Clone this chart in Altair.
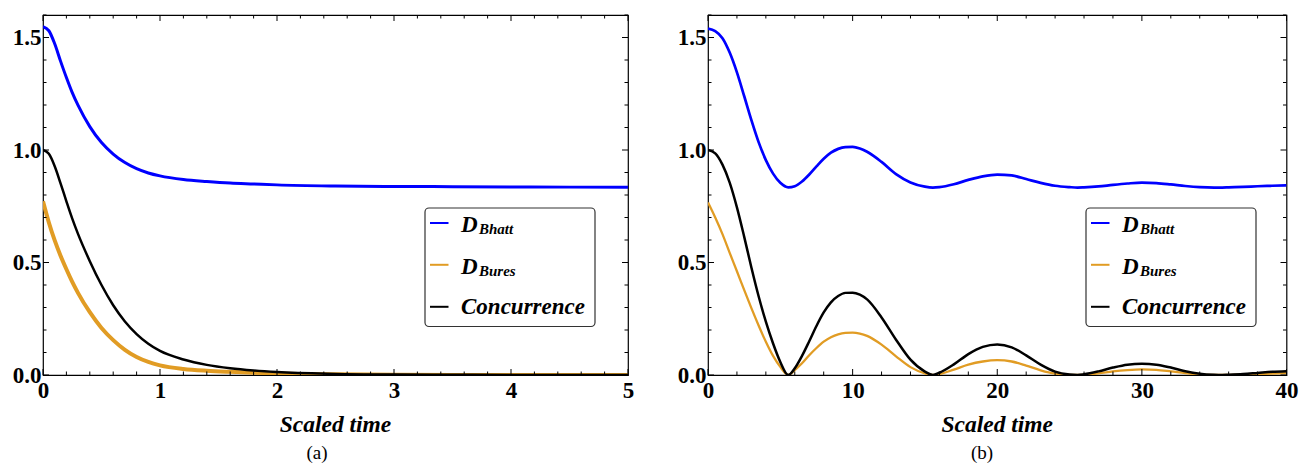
import altair as alt
import pandas as pd

# ---------------- data ----------------
# panel (a): scaled time 0..5
ta = [0, 0.05, 0.1, 0.15, 0.2, 0.25, 0.3, 0.4, 0.5, 0.6, 0.7, 0.8, 0.9, 1.0,
      1.2, 1.4, 1.6, 1.8, 2.0, 2.5, 3.0, 3.5, 4.0, 4.5, 5.0]
a_bhatt = [1.548, 1.530, 1.472, 1.395, 1.322, 1.255, 1.198, 1.104, 1.033, 0.982,
           0.944, 0.917, 0.898, 0.885, 0.869, 0.860, 0.853, 0.849, 0.845, 0.840,
           0.838, 0.837, 0.836, 0.835, 0.835]
a_bures = [0.772, 0.678, 0.598, 0.530, 0.470, 0.414, 0.364, 0.279, 0.209, 0.155,
           0.112, 0.080, 0.058, 0.043, 0.027, 0.019, 0.014, 0.010, 0.007, 0.003,
           0.001, 0.0, 0.0, 0.0, 0.0]
a_conc = [1.000, 0.983, 0.928, 0.852, 0.772, 0.695, 0.626, 0.506, 0.400, 0.310,
          0.238, 0.182, 0.139, 0.107, 0.069, 0.045, 0.030, 0.020, 0.013, 0.005,
          0.002, 0.001, 0.0, 0.0, 0.0]

# panel (b): scaled time 0..40
tb = [0, 0.5, 1, 1.5, 2, 2.5, 3, 3.5, 4, 4.5, 5, 5.55,
      6, 6.5, 7, 7.5, 8, 8.5, 9, 9.5, 10, 10.5, 11,
      12, 13, 14, 15, 15.55,
      16, 17, 18, 19, 20, 21, 22, 23, 24, 25, 25.55,
      26, 27, 28, 29, 30, 31, 32, 33, 34, 35, 35.55,
      36, 37, 38, 39, 40]
b_bhatt = [1.540, 1.528, 1.497, 1.433, 1.345, 1.240, 1.133, 1.035, 0.955, 0.895, 0.854, 0.834,
           0.839, 0.860, 0.891, 0.927, 0.961, 0.988, 1.005, 1.013, 1.014, 1.007, 0.992,
           0.947, 0.893, 0.856, 0.837, 0.833,
           0.835, 0.848, 0.867, 0.883, 0.891, 0.887, 0.871, 0.854, 0.841, 0.835, 0.833,
           0.834, 0.838, 0.845, 0.851, 0.855, 0.853, 0.847, 0.840, 0.835, 0.833, 0.833,
           0.834, 0.836, 0.839, 0.841, 0.843]
b_bures = [0.767, 0.700, 0.626, 0.543, 0.461, 0.378, 0.297, 0.220, 0.148, 0.085, 0.036, 0.0,
           0.022, 0.052, 0.088, 0.120, 0.148, 0.168, 0.181, 0.187, 0.188, 0.184, 0.174,
           0.135, 0.083, 0.035, 0.007, 0.0,
           0.004, 0.024, 0.046, 0.060, 0.066, 0.060, 0.042, 0.021, 0.006, 0.0005, 0.0,
           0.001, 0.007, 0.016, 0.022, 0.025, 0.023, 0.016, 0.008, 0.002, 0.0, 0.0,
           0.0, 0.002, 0.004, 0.006, 0.008]
b_conc = [1.000, 0.985, 0.935, 0.855, 0.745, 0.615, 0.478, 0.350, 0.237, 0.140, 0.058, 0.0,
          0.030, 0.085, 0.150, 0.218, 0.278, 0.323, 0.351, 0.365, 0.366, 0.357, 0.336,
          0.256, 0.157, 0.068, 0.015, 0.0,
          0.010, 0.047, 0.093, 0.125, 0.136, 0.123, 0.087, 0.046, 0.015, 0.002, 0.0,
          0.003, 0.016, 0.033, 0.046, 0.050, 0.046, 0.033, 0.017, 0.006, 0.001, 0.0,
          0.001, 0.004, 0.009, 0.014, 0.017]

legend_main = ["D", "D", "Concurrence"]
legend_sub = ["Bhatt", "Bures", ""]
colors = ["#0000FF", "#E19C24", "#000000"]

xa_major = [0, 1, 2, 3, 4, 5]
xa_minor = [0.2, 0.4, 0.6, 0.8, 1.2, 1.4, 1.6, 1.8, 2.2, 2.4, 2.6, 2.8,
            3.2, 3.4, 3.6, 3.8, 4.2, 4.4, 4.6, 4.8]
xb_major = [0, 10, 20, 30, 40]
xb_minor = [2, 4, 6, 8, 12, 14, 16, 18, 22, 24, 26, 28, 32, 34, 36, 38]
y_major = [0.0, 0.5, 1.0, 1.5]
y_minor = [0.1, 0.2, 0.3, 0.4, 0.6, 0.7, 0.8, 0.9, 1.1, 1.2, 1.3, 1.4, 1.6]
captions = ["(a)", "(b)"]
x_title = "Scaled time"

FONT = "Liberation Serif"
ONE = pd.DataFrame({"k": [0]})


def make_panel(t, series, widths, xmax, xmaj, xmin, W, H, caption, lx, cap_x):
    xs = alt.Scale(domain=[0, xmax], nice=False, zero=False)
    ys = alt.Scale(domain=[0, 1.6], nice=False, zero=False)
    xaxis = alt.Axis(values=xmaj, format="d", ticks=False, domain=False, grid=False,
                     title=None, labelFont=FONT, labelFontSize=23, labelFontWeight="bold",
                     labelColor="black", labelPadding=4, labelFlush=False, labelOverlap=False)
    yaxis = alt.Axis(values=y_major, format=".1f", ticks=False, domain=False, grid=False,
                     title=None, labelFont=FONT, labelFontSize=23, labelFontWeight="bold",
                     labelColor="black", labelPadding=2, labelFlush=False, labelOverlap=False)
    X = lambda f: alt.X(f, scale=xs, axis=xaxis)
    Y = lambda f: alt.Y(f, scale=ys, axis=yaxis)
    layers = []
    for vals, col, w in zip(series, colors, widths):
        df = pd.DataFrame({"t": t, "v": vals})
        layers.append(
            alt.Chart(df).mark_line(color=col, strokeWidth=w, interpolate="monotone", clip=True)
            .encode(x=X("t:Q"), y=Y("v:Q"))
        )
    # tick marks (inward, on all four sides)
    for vals, L in [(xmaj, 6), (xmin, 3.5)]:
        d = pd.DataFrame({"t": vals})
        base = alt.Chart(d).mark_rule(color="black", strokeWidth=1)
        layers.append(base.encode(x=X("t:Q"), y=alt.value(H), y2=alt.value(H - L)))
        layers.append(base.encode(x=X("t:Q"), y=alt.value(0), y2=alt.value(L)))
    for vals, L in [(y_major, 6), (y_minor, 3.5)]:
        d = pd.DataFrame({"v": vals})
        base = alt.Chart(d).mark_rule(color="black", strokeWidth=1)
        layers.append(base.encode(y=Y("v:Q"), x=alt.value(0), x2=alt.value(L)))
        layers.append(base.encode(y=Y("v:Q"), x=alt.value(W), x2=alt.value(W - L)))
    # legend box
    layers.append(alt.Chart(ONE).mark_rect(fill="white", stroke="#333333", strokeWidth=1.2,
                                           cornerRadius=4)
                  .encode(x=alt.value(lx), x2=alt.value(lx + 170),
                          y=alt.value(193), y2=alt.value(311.5)))
    sym_y = [208, 249.8, 291.8]
    txt_y = [216.8, 258.5, 298.5]
    for i in range(3):
        layers.append(alt.Chart(ONE).mark_rule(color=colors[i], strokeWidth=2)
                      .encode(x=alt.value(lx + 5), x2=alt.value(lx + 23.5),
                              y=alt.value(sym_y[i]), y2=alt.value(sym_y[i])))
        layers.append(alt.Chart(ONE).mark_text(font=FONT, fontSize=23, fontWeight="bold",
                                               fontStyle="italic", align="left",
                                               baseline="alphabetic", color="black")
                      .encode(x=alt.value(lx + 36), y=alt.value(txt_y[i]),
                              text=alt.value(legend_main[i])))
        if legend_sub[i]:
            layers.append(alt.Chart(ONE).mark_text(font=FONT, fontSize=15, fontWeight="bold",
                                                   fontStyle="italic", align="left",
                                                   baseline="alphabetic", color="black")
                          .encode(x=alt.value(lx + 54), y=alt.value(txt_y[i] + 2.5),
                                  text=alt.value(legend_sub[i])))
    # axis title and caption
    layers.append(alt.Chart(ONE).mark_text(font=FONT, fontSize=23.5, fontWeight="bold",
                                           fontStyle="italic", align="center",
                                           baseline="alphabetic", color="black")
                  .encode(x=alt.value(W / 2), y=alt.value(416.5), text=alt.value(x_title)))
    layers.append(alt.Chart(ONE).mark_text(font=FONT, fontSize=19, align="center",
                                           baseline="alphabetic", color="black")
                  .encode(x=alt.value(cap_x), y=alt.value(443.5), text=alt.value(caption)))
    return alt.layer(*layers).properties(width=W, height=H)


pa = make_panel(ta, [a_bhatt, a_bures, a_conc], [3, 4, 2.5], 5, xa_major, xa_minor,
                585, 360, captions[0], 382, 274)
pb = make_panel(tb, [b_bhatt, b_bures, b_conc], [2.7, 2.3, 2.5], 40, xb_major, xb_minor,
                578.5, 360, captions[1], 378, 274)

chart = (
    alt.hconcat(pa, pb, spacing=41)
    .properties(padding={"left": 11, "top": 13, "right": 5, "bottom": 0}, background="white")
    .configure_view(stroke="black", strokeWidth=1.2)
)

chart.save("out.html", embed_options={"renderer": "svg", "actions": False})
